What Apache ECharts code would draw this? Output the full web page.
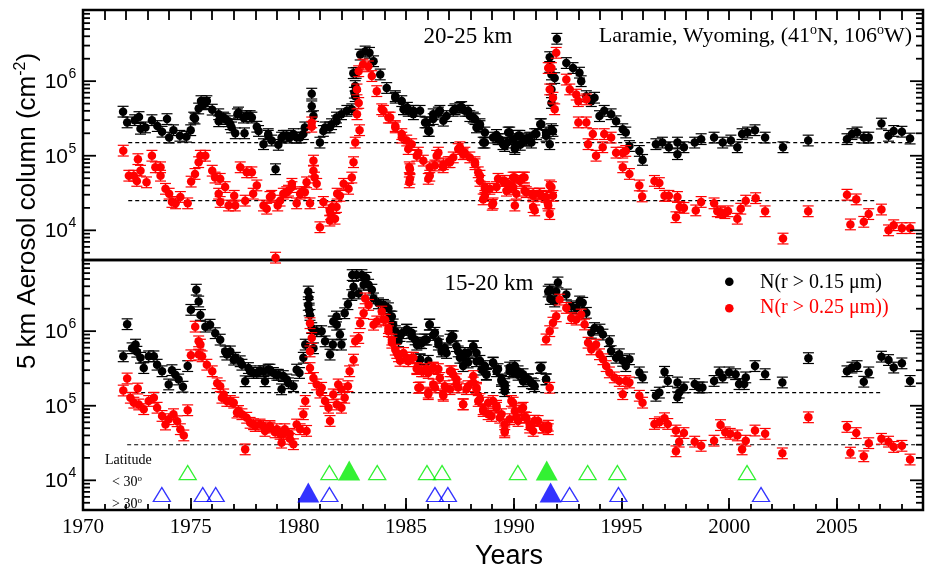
<!DOCTYPE html>
<html>
<head>
<meta charset="utf-8">
<title>Laramie aerosol column</title>
<script src="https://cdn.jsdelivr.net/npm/echarts@6/dist/echarts.min.js"></script>
<style>
html, body { margin: 0; padding: 0; background: #fff; }
#chart { width: 929px; height: 574px; }
</style>
</head>
<body>
<div id="chart"></div>
<script>
// axis ranges
var yearMin = 1970, yearMax = 2009;
var colMin = 4000, colMax = 9e6;

// 20-25 km, N(r > 0.15 um)
var upperSmall = [
  [1971.86,3.9e5],[1972.05,2.8e5],[1972.4,3.0e5],[1972.6,3.3e5],[1972.67,2.3e5],[1972.9,2.4e5],[1973.2,3.0e5],[1973.45,2.5e5],
  [1973.67,2.1e5],[1973.9,3.1e5],[1974.0,1.75e5],[1974.2,2.2e5],[1974.5,1.85e5],[1974.8,1.8e5],[1975.0,2.2e5],[1975.2,3.15e5],
  [1975.37,4.3e5],[1975.48,5.4e5],[1975.68,5.1e5],[1976.0,4.15e5],[1976.3,3.6e5],[1976.3,2.9e5],[1976.6,3.1e5],[1976.84,2.65e5],
  [1977.07,2.0e5],[1977.17,3.6e5],[1977.5,2.0e5],[1977.6,3.4e5],[1977.84,3.25e5],[1978.07,2.45e5],[1978.38,1.43e5],[1978.6,1.85e5],
  [1978.76,1.6e5],[1978.94,6.6e4],[1979.07,1.4e5],[1979.22,1.75e5],[1979.46,1.85e5],[1979.77,1.95e5],[1980.08,1.75e5],[1980.3,2.4e5],
  [1980.62,6.8e5],[1980.62,4.6e5],[1980.7,3.4e5],[1981.0,1.5e5],[1981.24,2.4e5],[1981.54,2.65e5],[1981.77,3.25e5],[1982.0,3.6e5],
  [1982.25,4.0e5],[1982.48,4.2e5],[1982.55,1.28e6],[1982.6,7.0e5],[1982.64,6.3e5],[1982.64,8.6e5],[1982.68,1.29e6],[1982.87,2.27e6],
  [1983.1,2.5e6],[1983.3,2.4e6],[1983.49,1.85e6],[1983.8,1.23e6],[1984.1,8.1e5],[1984.5,6.3e5],[1984.8,5.4e5],[1985.06,4.4e5],
  [1985.34,4.0e5],[1985.65,4.0e5],[1985.96,2.8e5],[1986.08,2.15e5],[1986.26,3.6e5],[1986.57,4.0e5],[1986.88,3.4e5],[1987.27,4.2e5],
  [1987.58,4.5e5],[1987.88,4.0e5],[1988.12,3.25e5],[1988.27,2.4e5],[1988.43,2.65e5],[1988.58,1.5e5],[1988.66,2.05e5],[1989.04,1.75e5],
  [1989.2,1.9e5],[1989.35,1.67e5],[1989.58,1.35e5],[1989.7,1.5e5],[1989.81,2.05e5],[1990.05,1.3e5],[1990.2,1.85e5],[1990.3,1.4e5],
  [1990.5,1.6e5],[1990.6,1.7e5],[1990.74,1.75e5],[1990.97,1.95e5],[1991.23,2.65e5],[1991.5,1.85e5],[1991.67,1.43e5],[1991.82,2.15e5],
  [1991.67,2.1e6],[1991.67,1.55e6],[1991.75,1.23e6],[1991.75,7.75e5],[1991.75,5.1e5],[1991.9,1.1e6],[1992.0,3.7e6],[1992.44,1.75e6],
  [1992.75,1.5e6],[1993.05,1.3e6],[1993.13,1.0e6],[1993.37,6.3e5],[1993.6,5.4e5],[1993.75,6.0e5],[1993.98,3.4e5],[1994.2,4.0e5],
  [1994.52,3.6e5],[1994.75,2.9e5],[1995.06,2.27e5],[1995.2,2.05e5],[1995.37,1.35e5],[1995.83,1.16e5],[1995.98,8.8e4],[1996.6,1.43e5],
  [1996.9,1.5e5],[1997.2,1.3e5],[1997.6,1.5e5],[1997.6,1.05e5],[1997.9,1.3e5],[1998.4,1.5e5],[1998.7,1.67e5],[1999.3,1.75e5],
  [1999.7,1.5e5],[2000.08,1.6e5],[2000.38,1.3e5],[2000.6,1.95e5],[2000.85,2.05e5],[2001.2,2.2e5],[2001.67,1.75e5],[2002.5,1.3e5],
  [2003.67,1.6e5],[2005.47,1.67e5],[2005.7,1.95e5],[2005.94,2.05e5],[2006.25,1.75e5],[2006.48,1.75e5],[2007.07,2.7e5],[2007.4,1.85e5],
  [2007.64,2.15e5],[2008.02,2.1e5],[2008.4,1.7e5],
  [1975.14,3.25e5],[1975.6,4.9e5],[1975.75,5.4e5],[1976.53,3.25e5],[1976.76,2.9e5],[1976.9,2.4e5],[1977.22,3.8e5],[1977.45,3.25e5],
  [1977.76,3.4e5],[1978.15,2.15e5],[1978.6,1.95e5],[1979.3,1.85e5],[1979.6,1.75e5],[1979.92,1.75e5],[1980.23,1.95e5],[1981.16,2.15e5],
  [1981.46,2.4e5],[1981.77,2.9e5],[1984.5,6.0e5],[1984.88,4.2e5],[1985.1,4.0e5],[1985.34,3.6e5],[1985.88,2.8e5],[1986.03,2.15e5],
  [1986.26,3.1e5],[1986.5,3.8e5],[1986.73,2.95e5],[1987.19,4.0e5],[1987.5,4.4e5],[1987.73,4.0e5],[1987.96,3.4e5],[1988.2,3.1e5],
  [1988.43,2.5e5],[1988.66,1.5e5],[1989.27,1.67e5],[1989.5,1.43e5],[1989.74,2.05e5],[1989.97,1.67e5],[1990.05,1.23e5],[1990.28,1.85e5],
  [1990.58,1.6e5],[1990.82,1.5e5],[1991.05,1.95e5],[1991.28,2.65e5],[1991.5,2.05e5],[1991.75,2.27e5]
];

// 20-25 km, N(r > 0.25 um)
var upperLarge = [
  [1971.87,1.17e5],[1972.13,5.4e4],[1972.36,5.4e4],[1972.5,4.6e4],[1972.55,9.0e4],[1972.67,6.3e4],[1972.95,4.4e4],[1973.2,1.0e5],
  [1973.36,7.0e4],[1973.6,7.0e4],[1973.6,5.4e4],[1973.83,3.6e4],[1974.0,3.1e4],[1974.13,2.4e4],[1974.3,2.3e4],[1974.52,2.8e4],
  [1974.86,2.3e4],[1975.02,4.5e4],[1975.2,5.7e4],[1975.37,8.2e4],[1975.45,1.0e5],[1975.68,1.0e5],[1976.0,6.3e4],[1976.13,5.1e4],
  [1976.3,3.1e4],[1976.37,4.9e4],[1976.37,2.4e4],[1976.6,3.8e4],[1976.76,2.15e4],[1977.02,2.9e4],[1977.07,2.15e4],[1977.3,7.0e4],
  [1977.53,2.5e4],[1977.6,6.0e4],[1977.84,6.0e4],[1977.9,3.1e4],[1978.07,4.0e4],[1978.38,2.15e4],[1978.53,1.95e4],[1978.76,2.9e4],
  [1978.94,4.3e3],[1979.04,2.15e4],[1979.3,3.1e4],[1979.54,3.4e4],[1979.7,4.2e4],[1979.92,2.3e4],[1980.15,3.25e4],[1980.38,4.4e4],
  [1980.54,2.3e4],[1980.62,2.8e5],[1980.62,2.45e5],[1980.7,8.6e4],[1980.7,6.3e4],[1980.75,5.1e4],[1980.85,4.2e4],[1981.0,1.1e4],
  [1981.16,2.4e4],[1981.46,1.85e4],[1981.46,1.35e4],[1981.5,1.65e4],[1981.56,2.05e4],[1981.7,1.43e4],[1981.77,2.05e4],[1981.8,3.1e4],
  [1981.93,2.9e4],[1982.1,4.2e4],[1982.33,3.6e4],[1982.48,5.1e4],[1982.56,8.2e4],[1982.64,1.5e5],[1982.72,3.6e5],[1982.72,7.75e5],
  [1982.8,5.1e5],[1982.8,1.36e6],[1982.84,2.2e5],[1983.0,1.67e6],[1983.25,1.58e6],[1983.41,1.17e6],[1983.64,7.35e5],[1983.87,4.2e5],
  [1984.18,3.25e5],[1984.5,2.4e5],[1984.8,1.75e5],[1985.1,1.23e5],[1985.15,7.0e4],[1985.15,4.4e4],[1985.5,1.0e5],[1985.8,8.6e4],
  [1986.1,5.4e4],[1986.1,7.0e4],[1986.42,1.0e5],[1986.72,7.0e4],[1987.04,8.2e4],[1987.42,1.23e5],[1987.65,1.05e5],[1987.96,9.5e4],
  [1988.2,7.7e4],[1988.43,5.4e4],[1988.58,2.6e4],[1988.66,3.6e4],[1989.0,2.2e4],[1989.2,3.8e4],[1989.5,4.6e4],[1989.66,3.4e4],
  [1989.74,4.2e4],[1989.97,3.8e4],[1990.05,2.15e4],[1990.05,5.1e4],[1990.43,5.1e4],[1990.5,3.4e4],[1990.9,3.1e4],[1990.97,1.85e4],
  [1991.2,3.1e4],[1991.28,2.9e4],[1991.6,2.15e4],[1991.67,1.65e4],[1991.67,4.0e4],[1991.82,2.9e4],[1991.6,1.5e6],[1991.67,7.75e5],
  [1991.75,1.5e6],[1991.82,6.0e5],[1991.9,4.2e5],[1991.97,2.4e6],[1992.44,1.05e6],[1992.6,7.75e5],[1992.9,6.6e5],[1993.0,5.4e5],
  [1993.0,2.8e5],[1993.37,5.7e5],[1993.37,2.8e5],[1993.45,1.43e5],[1993.67,1.95e5],[1993.82,1.0e5],[1994.13,1.3e5],[1994.2,1.95e5],
  [1994.52,1.75e5],[1994.75,1.1e5],[1995.06,1.1e5],[1995.06,7.0e4],[1995.2,1.16e5],[1995.37,5.7e4],[1995.83,4.0e4],[1995.96,2.85e4],
  [1996.53,4.6e4],[1996.76,4.3e4],[1997.0,2.9e4],[1997.2,2.9e4],[1997.53,1.5e4],[1997.6,2.8e4],[1997.7,2.05e4],[1997.9,2.0e4],
  [1998.45,1.85e4],[1998.7,2.4e4],[1999.3,2.3e4],[1999.45,1.8e4],[1999.6,1.75e4],[1999.8,1.7e4],[1999.95,1.8e4],[2000.38,1.43e4],
  [2000.54,1.95e4],[2000.77,2.5e4],[2001.23,2.7e4],[2001.67,1.8e4],[2002.5,7.75e3],[2003.67,1.8e4],[2005.47,3.0e4],[2005.63,1.2e4],
  [2005.9,2.6e4],[2006.25,1.3e4],[2006.48,1.65e4],[2007.07,1.9e4],[2007.4,1.0e4],[2007.64,1.17e4],[2008.02,1.07e4],[2008.4,1.07e4],
  [1978.68,2.8e4],[1979.15,2.5e4],[1979.46,3.25e4],[1979.7,3.8e4],[1980.08,3.1e4],[1980.3,3.25e4],[1983.95,4.0e5],[1984.26,3.25e5],
  [1984.5,2.5e5],[1984.8,1.95e5],[1985.03,1.6e5],[1985.26,1.43e5],[1985.18,6.6e4],[1985.18,4.9e4],[1985.57,1.1e5],[1986.03,4.9e4],
  [1986.34,7.4e4],[1986.5,1.1e5],[1986.73,7.7e4],[1986.96,8.2e4],[1987.19,9.5e4],[1987.5,1.3e5],[1987.73,1.1e5],[1988.2,8.2e4],
  [1988.35,6.0e4],[1988.43,4.6e4],[1988.66,3.8e4],[1988.89,3.6e4],[1988.66,2.9e4],[1989.04,2.3e4],[1989.27,4.9e4],[1989.58,4.6e4],
  [1989.81,3.6e4],[1989.97,5.1e4],[1990.28,4.6e4],[1990.5,5.1e4],[1990.12,3.1e4],[1990.58,3.25e4],[1990.9,2.9e4],[1990.9,2.05e4],
  [1991.2,3.1e4],[1991.5,2.8e4],[1991.58,2.3e4],[1991.75,3.8e4]
];

// 15-20 km, N(r > 0.15 um)
var lowerSmall = [
  [1971.87,4.6e5],[1972.05,1.24e6],[1972.28,5.9e5],[1972.44,6.6e5],[1972.5,5.3e5],[1972.67,4.4e5],[1972.82,3.2e5],[1973.05,4.6e5],
  [1973.29,4.6e5],[1973.44,3.55e5],[1973.67,2.9e5],[1973.98,1.93e5],[1974.13,3.0e5],[1974.29,2.6e5],[1974.44,2.25e5],[1974.64,1.8e5],
  [1974.86,3.4e5],[1975.01,1.93e6],[1975.26,3.6e6],[1975.37,2.5e6],[1975.45,1.65e6],[1975.68,1.15e6],[1975.9,1.22e6],[1976.14,9.4e5],
  [1976.37,7.7e5],[1976.6,5.35e5],[1976.84,5.35e5],[1977.07,4.4e5],[1977.3,3.95e5],[1977.53,2.13e5],[1977.68,3.2e5],[1977.92,2.75e5],
  [1978.22,2.9e5],[1978.45,2.13e5],[1978.6,3.05e5],[1978.84,2.75e5],[1979.07,2.6e5],[1979.22,1.66e5],[1979.46,2.25e5],[1979.77,1.83e5],
  [1979.92,3.05e5],[1980.05,2.75e5],[1980.23,4.4e5],[1980.32,6.6e5],[1980.46,3.4e6],[1980.5,2.8e6],[1980.46,2.25e6],[1980.5,1.9e6],
  [1980.54,1.65e6],[1980.62,1.1e6],[1980.7,5.9e5],[1980.85,1.0e6],[1981.08,1.0e6],[1981.24,7.3e5],[1981.47,4.85e5],[1981.6,6.6e5],
  [1981.62,1.35e6],[1981.77,1.57e6],[1981.78,1.22e6],[1981.93,9.0e5],[1982.0,6.6e5],[1982.15,1.74e6],[1982.3,2.3e6],[1982.48,3.05e6],
  [1982.5,5.65e6],[1982.56,3.95e6],[1982.7,5.65e6],[1982.8,3.2e6],[1982.95,5.65e6],[1983.03,4.2e6],[1983.15,5.2e6],[1983.26,4.2e6],
  [1983.41,3.6e6],[1983.49,2.75e6],[1983.72,2.36e6],[1983.95,2.25e6],[1984.18,2.03e6],[1984.34,1.57e6],[1984.5,1.0e6],[1984.65,7.3e5],
  [1984.8,9.4e5],[1985.03,1.04e6],[1985.26,8.5e5],[1985.5,6.6e5],[1985.65,4.15e5],[1985.72,6.9e5],[1985.96,7.7e5],[1986.08,1.22e6],
  [1986.26,8.9e5],[1986.5,7.3e5],[1986.65,5.35e5],[1986.8,5.9e5],[1987.04,7.7e5],[1987.19,8.5e5],[1987.42,5.35e5],[1987.65,4.4e5],
  [1987.65,3.4e5],[1987.88,5.1e5],[1988.12,6.2e5],[1988.27,3.95e5],[1988.5,3.05e5],[1988.73,2.6e5],[1989.04,3.75e5],[1989.2,2.9e5],
  [1989.43,2.25e5],[1989.58,1.57e5],[1989.58,1.95e5],[1989.81,2.9e5],[1990.05,3.4e5],[1990.2,2.6e5],[1990.43,2.13e5],[1990.67,2.25e5],
  [1990.82,2.0e5],[1990.97,1.83e5],[1991.23,3.2e5],[1991.5,2.25e5],[1991.6,3.4e6],[1991.67,3.6e6],[1991.7,2.7e6],[1991.9,2.5e6],
  [1991.97,3.4e6],[1992.05,4.5e6],[1992.44,3.1e6],[1992.67,2.15e6],[1992.9,2.05e6],[1993.06,2.5e6],[1993.2,2.4e6],[1993.37,1.76e6],
  [1993.6,9.5e5],[1993.75,1.1e6],[1994.0,1.05e6],[1994.14,9.0e5],[1994.44,7.35e5],[1994.52,5.4e5],[1994.75,4.4e5],[1994.9,4.9e5],
  [1995.06,4.0e5],[1995.2,3.4e5],[1995.37,4.2e5],[1995.83,2.8e5],[1995.98,2.4e5],[1996.6,1.36e5],[1996.76,1.5e5],[1997.0,2.85e5],
  [1997.15,2.15e5],[1997.6,2.05e5],[1997.6,1.3e5],[1997.68,1.5e5],[1997.9,1.76e5],[1998.4,1.95e5],[1998.6,1.76e5],[1998.76,1.76e5],
  [1999.3,2.15e5],[1999.54,2.8e5],[1999.7,2.4e5],[2000.0,2.8e5],[2000.3,2.65e5],[2000.46,1.95e5],[2000.7,1.95e5],[2000.77,2.4e5],
  [2001.2,3.4e5],[2001.67,2.65e5],[2002.47,2.05e5],[2003.68,4.35e5],[2005.47,2.9e5],[2005.7,3.25e5],[2005.94,3.4e5],[2006.25,2.1e5],
  [2006.48,2.8e5],[2007.07,4.55e5],[2007.4,4.1e5],[2007.64,3.25e5],[2008.02,3.7e5],[2008.4,2.15e5],
  [1976.68,4.85e5],[1977.0,4.15e5],[1977.38,3.55e5],[1977.76,2.9e5],[1978.07,2.75e5],[1978.38,2.9e5],[1978.68,3.05e5],[1979.0,2.6e5],
  [1979.3,2.5e5],[1979.54,2.0e5],[1984.03,2.15e6],[1984.26,1.58e6],[1984.4,1.23e6],[1984.72,8.6e5],[1985.03,1.05e6],[1985.26,9.5e5],
  [1985.42,7.75e5],[1985.65,7.0e5],[1985.88,7.75e5],[1986.1,1.23e6],[1986.34,9.5e5],[1986.5,6.6e5],[1986.73,5.7e5],[1986.88,5.1e5],
  [1985.65,4.2e5],[1986.03,4.0e5],[1987.12,8.6e5],[1987.34,6.3e5],[1987.5,4.4e5],[1987.73,5.1e5],[1987.88,3.8e5],[1988.12,6.3e5],
  [1988.27,5.1e5],[1988.43,4.0e5],[1988.66,3.4e5],[1988.73,2.65e5],[1989.04,3.8e5],[1989.27,3.1e5],[1989.43,2.15e5],[1989.58,1.76e5],
  [1989.81,3.25e5],[1989.97,2.8e5],[1990.2,2.9e5],[1990.43,2.65e5],[1990.67,2.27e5],[1990.9,1.95e5],[1991.28,3.25e5],[1991.5,2.27e5]
];

// 15-20 km, N(r > 0.25 um)
var lowerLarge = [
  [1971.87,1.6e5],[1972.05,2.32e5],[1972.2,1.28e5],[1972.36,1.1e5],[1972.54,1.7e5],[1972.59,1.04e5],[1972.82,9.0e4],[1973.05,1.16e5],
  [1973.29,1.28e5],[1973.44,9.4e4],[1973.67,7.3e4],[1973.83,5.6e4],[1973.98,6.6e4],[1974.2,7.7e4],[1974.37,6.2e4],[1974.52,4.85e4],
  [1974.68,4.0e4],[1974.86,8.7e4],[1975.01,4.75e5],[1975.21,1.15e6],[1975.37,7.3e5],[1975.45,6.6e5],[1975.37,4.85e5],[1975.53,4.6e5],
  [1975.75,3.55e5],[1976.0,2.9e5],[1976.23,2.0e5],[1976.37,1.83e5],[1976.45,1.28e5],[1976.68,1.16e5],[1977.0,1.1e5],[1977.15,8.1e4],
  [1977.38,7.7e4],[1977.53,2.6e4],[1977.76,5.9e4],[1978.0,5.35e4],[1978.22,5.6e4],[1978.45,4.6e4],[1978.68,5.35e4],[1978.92,4.4e4],
  [1979.15,4.2e4],[1979.22,3.2e4],[1979.37,4.85e4],[1979.6,3.6e4],[1979.77,3.05e4],[1979.92,5.6e4],[1980.08,4.85e4],[1980.23,7.7e4],
  [1980.32,1.16e5],[1980.38,4.6e4],[1980.54,3.2e5],[1980.54,5.35e5],[1980.54,1.28e6],[1980.62,8.1e5],[1980.7,2.36e5],[1980.85,1.93e5],
  [1981.0,1.5e5],[1981.08,1.74e5],[1981.24,1.16e5],[1981.4,9.4e4],[1981.47,6.25e4],[1981.62,1.42e5],[1981.78,1.04e5],[1981.85,1.93e5],
  [1982.0,1.66e5],[1982.0,9.4e4],[1982.15,1.28e5],[1982.3,1.83e5],[1982.38,2.9e5],[1982.56,4.15e5],[1982.64,7.3e5],[1982.8,8.1e5],
  [1982.87,1.28e6],[1983.03,1.74e6],[1983.1,2.75e6],[1983.26,2.25e6],[1983.49,1.22e6],[1983.64,1.35e6],[1983.87,1.83e6],[1984.03,1.42e6],
  [1984.18,1.1e6],[1984.34,7.7e5],[1984.5,5.65e5],[1984.65,4.6e5],[1984.88,5.1e5],[1985.1,3.95e5],[1985.26,4.4e5],[1985.5,3.2e5],
  [1985.57,1.74e5],[1985.8,2.9e5],[1986.03,2.75e5],[1986.03,1.5e5],[1986.26,3.2e5],[1986.26,1.93e5],[1986.57,2.36e5],[1986.72,1.42e5],
  [1986.8,1.83e5],[1987.04,2.9e5],[1987.19,2.6e5],[1987.34,1.93e5],[1987.65,1.04e5],[1987.88,1.83e5],[1988.12,2.5e5],[1988.27,1.74e5],
  [1988.35,1.16e5],[1988.58,8.5e4],[1988.81,7.7e4],[1989.04,1.16e5],[1989.2,9.4e4],[1989.35,6.9e4],[1989.58,5.65e4],[1989.58,4.4e4],
  [1989.89,1.16e5],[1990.05,8.5e4],[1990.2,6.25e4],[1990.43,9.4e4],[1990.58,6.9e4],[1990.74,5.65e4],[1990.9,4.6e4],[1991.13,6.25e4],
  [1991.36,5.1e4],[1991.6,4.85e4],[1991.67,1.74e5],[1991.5,7.75e5],[1991.67,1.0e6],[1991.82,1.3e6],[1991.97,1.58e6],[1992.13,2.65e6],
  [1992.44,2.05e6],[1992.67,1.5e6],[1992.9,1.43e6],[1993.13,1.67e6],[1993.29,1.23e6],[1993.45,7.0e5],[1993.6,5.7e5],[1993.82,6.6e5],
  [1993.98,4.9e5],[1994.14,4.2e5],[1994.29,3.4e5],[1994.44,2.8e5],[1994.67,2.4e5],[1994.9,2.15e5],[1995.06,1.43e5],[1995.2,2.15e5],
  [1995.37,2.05e5],[1995.83,1.36e5],[1995.98,1.1e5],[1996.53,5.7e4],[1996.76,6.0e4],[1997.0,6.8e4],[1997.15,5.7e4],[1997.53,4.65e4],
  [1997.53,2.45e4],[1997.68,3.3e4],[1997.9,4.3e4],[1998.4,3.3e4],[1998.7,2.9e4],[1999.3,3.4e4],[1999.6,5.5e4],[1999.82,4.4e4],
  [2000.05,4.2e4],[2000.38,4.0e4],[2000.6,2.6e4],[2000.77,3.4e4],[2001.2,4.65e4],[2001.67,4.2e4],[2002.47,2.3e4],[2003.68,7.0e4],
  [2005.47,5.2e4],[2005.63,2.35e4],[2005.9,4.3e4],[2006.25,2.1e4],[2006.48,3.15e4],[2007.07,3.6e4],[2007.4,3.3e4],[2007.64,2.8e4],
  [2008.02,2.9e4],[2008.4,1.9e4],
  [1976.53,1.42e5],[1976.84,1.16e5],[1977.22,8.5e4],[1977.6,6.9e4],[1977.92,5.65e4],[1978.38,5.35e4],[1978.68,5.1e4],[1979.0,4.85e4],
  [1979.3,4.2e4],[1979.6,4.2e4],[1983.95,1.43e6],[1984.18,1.0e6],[1984.34,7.0e5],[1984.57,5.1e5],[1984.72,4.0e5],[1985.03,4.4e5],
  [1985.34,4.4e5],[1985.5,3.1e5],[1985.72,2.9e5],[1985.96,3.1e5],[1986.26,3.25e5],[1986.5,3.1e5],[1985.65,1.76e5],[1986.03,1.43e5],
  [1986.34,1.76e5],[1986.73,1.36e5],[1987.12,2.9e5],[1987.34,2.27e5],[1987.04,1.67e5],[1987.42,1.76e5],[1987.65,1.05e5],[1987.8,1.67e5],
  [1988.12,2.05e5],[1988.27,1.67e5],[1988.43,1.23e5],[1988.58,9.0e4],[1988.81,1.1e5],[1988.97,7.3e4],[1989.2,1.0e5],[1989.43,7.7e4],
  [1989.58,4.65e4],[1989.81,6.6e4],[1989.97,1.1e5],[1990.12,7.0e4],[1990.36,9.0e4],[1990.5,7.0e4],[1990.74,5.1e4],[1990.97,6.3e4],
  [1991.36,5.1e4],[1991.6,5.4e4]
];

// dashed background levels: [level, from, to]
var upperLevels = [[1.5e5, 1972.1, 2008.5], [2.5e4, 1972.1, 2006.85]];
var lowerLevels = [[1.5e5, 1972.05, 2007.1], [3e4, 1972.05, 2008.65]];

// eruptions (years), latitude < 30 and > 30, big ones filled
var tropicEruptions = [1974.86, 1981.44, 1983.66, 1985.97, 1986.67, 1990.19, 1993.43, 1994.81, 2000.83];
var tropicMajor = [1982.36, 1991.53];
var midlatEruptions = [1973.66, 1975.56, 1976.16, 1981.44, 1986.34, 1986.94, 1992.59, 1994.86, 2001.48];
var midlatMajor = [1980.46, 1991.71];
var tropicRow = 1.27e4, midlatRow = 6.45e3;

// log axis ticks
var decades = [1e4, 1e5, 1e6];
var minorTicks = [5e3, 6e3, 7e3, 8e3, 9e3, 2e4, 3e4, 4e4, 5e4, 6e4, 7e4, 8e4, 9e4,
  2e5, 3e5, 4e5, 5e5, 6e5, 7e5, 8e5, 9e5, 2e6, 3e6, 4e6, 5e6, 6e6, 7e6, 8e6];

var errFrac = 0.18;
var serif = '"Liberation Serif", "Times New Roman", serif';
var sans = '"Liberation Sans", Arial, sans-serif';

var chart = echarts.init(document.getElementById('chart'));

function xIdx(gi) { return gi === 0 ? 0 : 1; }

function errorBars(data, color, gi, z) {
  return {
    type: 'custom', xAxisIndex: xIdx(gi), yAxisIndex: gi, z: z, silent: true,
    data: data,
    renderItem: function (params, api) {
      var x = api.value(0), v = api.value(1);
      var hi = api.coord([x, v * (1 + errFrac)]);
      var lo = api.coord([x, v / (1 + errFrac)]);
      var w = 5.5;
      var st = { stroke: color, lineWidth: 1.2 };
      return {
        type: 'group', children: [
          { type: 'line', shape: { x1: hi[0], y1: hi[1], x2: lo[0], y2: lo[1] }, style: st },
          { type: 'line', shape: { x1: hi[0] - w, y1: hi[1], x2: hi[0] + w, y2: hi[1] }, style: st },
          { type: 'line', shape: { x1: lo[0] - w, y1: lo[1], x2: lo[0] + w, y2: lo[1] }, style: st }
        ]
      };
    }
  };
}

function dots(data, color, gi, z) {
  return {
    type: 'scatter', xAxisIndex: xIdx(gi), yAxisIndex: gi, z: z, silent: true,
    symbol: 'circle', symbolSize: 8.5, data: data,
    itemStyle: { color: color, opacity: 1 }
  };
}

function levelLines(levels, gi) {
  return levels.map(function (l) {
    return {
      type: 'line', xAxisIndex: xIdx(gi), yAxisIndex: gi, z: 1, silent: true,
      symbol: 'none', data: [[l[1], l[0]], [l[2], l[0]]],
      lineStyle: { color: '#000', width: 1.2, type: [4, 3] }
    };
  });
}

// log ticks on both sides, and 10^n labels on the left
function yTicks(gi) {
  var data = decades.map(function (d) { return [yearMin, d, 1]; })
    .concat(minorTicks.map(function (m) { return [yearMin, m, 0]; }));
  return {
    type: 'custom', xAxisIndex: xIdx(gi), yAxisIndex: gi, z: 10, silent: true,
    data: data, encode: { x: 0, y: 1 },
    renderItem: function (params, api) {
      var v = api.value(1), major = api.value(2);
      var l = api.coord([yearMin, v]), r = api.coord([yearMax, v]);
      var len = major ? 13 : 7;
      var st = { stroke: '#000', lineWidth: 1.8 };
      var kids = [
        { type: 'line', shape: { x1: l[0], y1: l[1], x2: l[0] + len, y2: l[1] }, style: st },
        { type: 'line', shape: { x1: r[0], y1: r[1], x2: r[0] - len, y2: r[1] }, style: st }
      ];
      if (major) {
        kids.push({ type: 'text', x: l[0] - 15, y: l[1] + 1,
          style: { text: '10', font: '21px ' + sans, fill: '#000', textAlign: 'right', textVerticalAlign: 'middle' } });
        kids.push({ type: 'text', x: l[0] - 14.5, y: l[1] - 7,
          style: { text: String(Math.round(Math.log10(v))), font: '14px ' + sans, fill: '#000', textAlign: 'left', textVerticalAlign: 'middle' } });
      }
      return { type: 'group', children: kids };
    }
  };
}

function eruptions(years, row, color, size, filled, offset) {
  return {
    type: 'scatter', xAxisIndex: 1, yAxisIndex: 1, z: 6, silent: true,
    symbol: 'triangle', symbolSize: size, symbolOffset: [0, offset],
    data: years.map(function (y) { return [y, row]; }),
    itemStyle: filled ? { color: color } : { color: 'rgba(0,0,0,0)', borderColor: color, borderWidth: 1.3 }
  };
}

var logY = function (gi) {
  return {
    type: 'log', logBase: 10, gridIndex: gi, min: colMin, max: colMax,
    axisLine: { show: false }, axisTick: { show: false }, axisLabel: { show: false }, splitLine: { show: false }
  };
};

var series = [].concat(
  levelLines(upperLevels, 0), levelLines(lowerLevels, 1),
  [
    errorBars(upperSmall, '#000', 0, 2), dots(upperSmall, '#000', 0, 3),
    errorBars(upperLarge, '#ff0000', 0, 4), dots(upperLarge, '#ff0000', 0, 5),
    errorBars(lowerSmall, '#000', 1, 2), dots(lowerSmall, '#000', 1, 3),
    errorBars(lowerLarge, '#ff0000', 1, 4), dots(lowerLarge, '#ff0000', 1, 5),
    eruptions(tropicEruptions, tropicRow, '#00ee00', [17, 14], false, 0),
    eruptions(tropicMajor, tropicRow, '#00ee00', [22, 20], true, -2),
    eruptions(midlatEruptions, midlatRow, '#0000ff', [17, 14], false, 0),
    eruptions(midlatMajor, midlatRow, '#0000ff', [22, 20], true, -2),
    yTicks(0), yTicks(1)
  ]
);

var option = {
  animation: false,
  backgroundColor: '#fff',
  grid: [
    { left: 83, top: 10, width: 840, height: 250, show: true, borderColor: '#000', borderWidth: 2.5, backgroundColor: 'transparent' },
    { left: 83, top: 260, width: 840, height: 250, show: true, borderColor: '#000', borderWidth: 2.5, backgroundColor: 'transparent' }
  ],
  xAxis: [
    { type: 'value', gridIndex: 0, position: 'top', min: yearMin, max: yearMax, interval: 1,
      axisLine: { show: false }, axisLabel: { show: false }, splitLine: { show: false },
      axisTick: { inside: true, length: 10, lineStyle: { color: '#000', width: 1.8 } } },
    { type: 'value', gridIndex: 1, position: 'bottom', min: yearMin, max: yearMax, interval: 1,
      axisLine: { show: false }, axisLabel: { show: false }, splitLine: { show: false },
      axisTick: { inside: true, length: 6, lineStyle: { color: '#000', width: 1.8 } } },
    { type: 'value', gridIndex: 1, position: 'bottom', min: yearMin, max: yearMax, interval: 5,
      axisLine: { show: false }, splitLine: { show: false },
      axisTick: { inside: true, length: 12, lineStyle: { color: '#000', width: 1.8 } },
      axisLabel: { margin: 7, color: '#000', fontSize: 21, fontFamily: serif, showMaxLabel: false,
        formatter: function (v) { return v % 5 === 0 ? String(v) : ''; } } }
  ],
  yAxis: [logY(0), logY(1)],
  series: series,
  graphic: [
    { type: 'text', x: 28, y: 211, rotation: Math.PI / 2, z: 20,
      style: { text: '{a|5 km Aerosol column (cm}{b|-2}{a|)}', textAlign: 'center', textVerticalAlign: 'middle',
        rich: { a: { fontSize: 26, fontFamily: sans, lineHeight: 30 }, b: { fontSize: 16, fontFamily: sans, verticalAlign: 'top', lineHeight: 16 } } } },
    { type: 'text', x: 509, y: 557, z: 20,
      style: { text: 'Years', font: '27px ' + sans, fill: '#000', textAlign: 'center', textVerticalAlign: 'middle' } },
    { type: 'text', x: 468, y: 37, z: 20,
      style: { text: '20-25 km', font: '23px ' + serif, fill: '#000', textAlign: 'center', textVerticalAlign: 'middle' } },
    { type: 'text', x: 912, y: 36, z: 20,
      style: { text: '{n|Laramie, Wyoming, (41}{s|o}{n|N, 106}{s|o}{n|W)}', textAlign: 'right', textVerticalAlign: 'middle',
        rich: { n: { fontSize: 22, fontFamily: serif, lineHeight: 26 }, s: { fontSize: 14, fontFamily: serif, verticalAlign: 'top', lineHeight: 14 } } } },
    { type: 'text', x: 489, y: 284, z: 20,
      style: { text: '15-20 km', font: '23px ' + serif, fill: '#000', textAlign: 'center', textVerticalAlign: 'middle' } },
    { type: 'circle', shape: { cx: 729.3, cy: 281.7, r: 4.3 }, style: { fill: '#000' }, z: 20 },
    { type: 'text', x: 760, y: 283, z: 20,
      style: { text: 'N(r > 0.15 μm)', font: '20px ' + serif, fill: '#000', textAlign: 'left', textVerticalAlign: 'middle' } },
    { type: 'circle', shape: { cx: 729.3, cy: 308.3, r: 4.3 }, style: { fill: '#ff0000' }, z: 20 },
    { type: 'text', x: 760, y: 308, z: 20,
      style: { text: 'N(r > 0.25 μm))', font: '20px ' + serif, fill: '#ff0000', textAlign: 'left', textVerticalAlign: 'middle' } },
    { type: 'text', x: 105, y: 460, z: 20,
      style: { text: 'Latitude', font: '14px ' + serif, fill: '#000', textAlign: 'left', textVerticalAlign: 'middle' } },
    { type: 'text', x: 112, y: 482, z: 20,
      style: { text: '{n|< 30}{s|o}', textAlign: 'left', textVerticalAlign: 'middle',
        rich: { n: { fontSize: 14, fontFamily: serif, lineHeight: 16 }, s: { fontSize: 9, fontFamily: serif, verticalAlign: 'top', lineHeight: 9 } } } },
    { type: 'text', x: 112, y: 504, z: 20,
      style: { text: '{n|> 30}{s|o}', textAlign: 'left', textVerticalAlign: 'middle',
        rich: { n: { fontSize: 14, fontFamily: serif, lineHeight: 16 }, s: { fontSize: 9, fontFamily: serif, verticalAlign: 'top', lineHeight: 9 } } } }
  ]
};

chart.setOption(option);
</script>
</body>
</html>
